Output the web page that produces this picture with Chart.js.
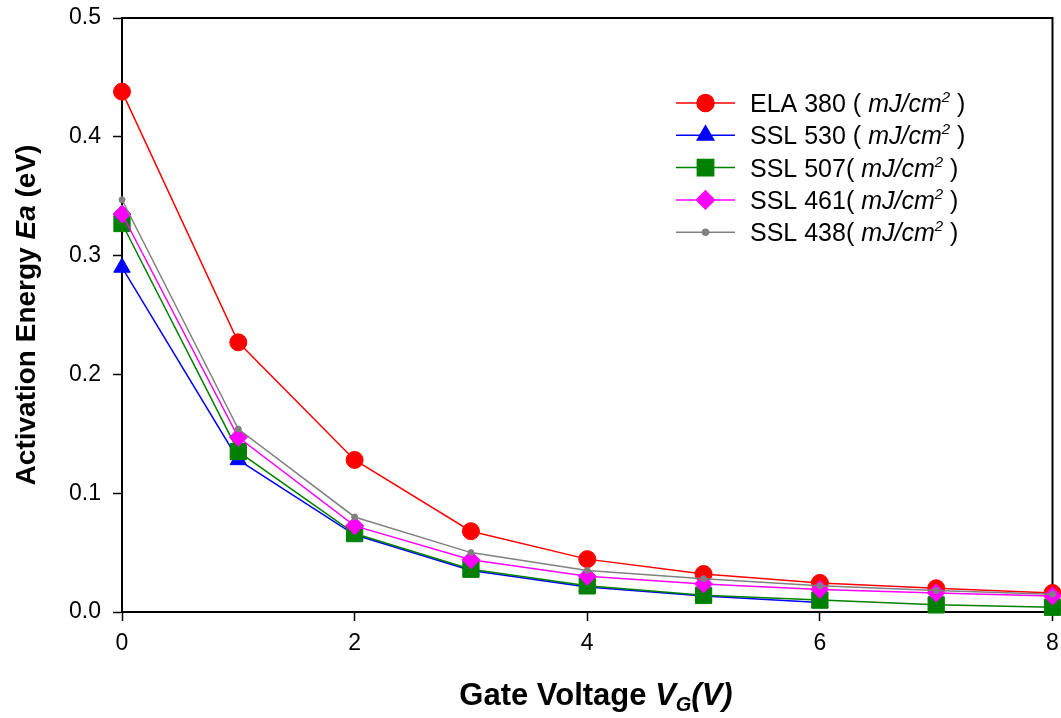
<!DOCTYPE html>
<html>
<head>
<meta charset="utf-8">
<script src="https://cdn.jsdelivr.net/npm/chart.js@4.4.0/dist/chart.umd.min.js"></script>
<style>
  body { margin: 0; background: #fff; overflow: hidden; }
  #cadre { width: 1061px; height: 718px; overflow: hidden; }
</style>
</head>
<body>
<div id="cadre"><canvas id="graphe" width="1065" height="718"></canvas></div>
<script>
// tension de grille (V) et énergie d'activation (eV) pour chaque recuit
const tensions = [0, 1, 2, 3, 4, 5, 6, 7, 8];
const ela380 = [0.438, 0.227, 0.128, 0.068, 0.0445, 0.032, 0.0245, 0.020, 0.016];
const ssl530 = [0.290, 0.128, 0.065, 0.035, 0.021, 0.0135, 0.008, null, null];
const ssl507 = [0.327, 0.135, 0.066, 0.036, 0.022, 0.014, 0.010, 0.006, 0.004];
const ssl461 = [0.335, 0.147, 0.0725, 0.044, 0.030, 0.0236, 0.019, 0.016, 0.0135];
const ssl438 = [0.347, 0.154, 0.080, 0.050, 0.035, 0.028, 0.022, 0.018, 0.015];

const noms = ["ELA 380 ( ", "SSL 530 ( ", "SSL 507( ", "SSL 461( ", "SSL 438( "];
const couleurs = ["#ff0000", "#0000ff", "#008000", "#ff00ff", "#808080"];
const formes = ["circle", "triangle", "rect", "rectRot", "circle"];
const tailles = [8.5, 9.5, 11.5, 9, 3];

const police = "'Liberation Sans', Arial, Helvetica, sans-serif";
const valeurs = [ela380, ssl530, ssl507, ssl461, ssl438];

// écrit une suite de morceaux de texte (polices différentes) à la suite
function ecrireMorceaux(ctx, morceaux, x, y, centre) {
    let largeur = 0;
    morceaux.forEach(m => { ctx.font = m.f; largeur += ctx.measureText(m.t).width; });
    let pos = centre ? x - largeur / 2 : x;
    ctx.textBaseline = "alphabetic";
    ctx.textAlign = "left";
    morceaux.forEach(m => {
        ctx.font = m.f;
        ctx.fillText(m.t, pos, y + (m.dy || 0));
        pos += ctx.measureText(m.t).width;
    });
}

const cadreGraphe = {
    id: "cadreGraphe",
    beforeDatasetsDraw(chart) {
        const a = chart.chartArea;
        const ctx = chart.ctx;
        ctx.save();
        ctx.strokeStyle = "#000";
        ctx.lineWidth = 2;
        ctx.beginPath();
        ctx.moveTo(a.left, a.top);
        ctx.lineTo(a.right, a.top);
        ctx.lineTo(a.right, a.bottom);
        ctx.stroke();
        ctx.restore();
    }
};

const textes = {
    id: "textes",
    afterDraw(chart) {
        const a = chart.chartArea;
        const ctx = chart.ctx;
        ctx.save();
        ctx.fillStyle = "#000";

        // titre de l'axe x
        ecrireMorceaux(ctx, [
            { t: "Gate Voltage ", f: "bold 31px " + police },
            { t: "V", f: "italic bold 31px " + police },
            { t: "G", f: "italic bold 20px " + police, dy: 6 },
            { t: "(V)", f: "italic bold 31px " + police }
        ], 596, 705, true);

        // titre de l'axe y
        ctx.save();
        ctx.translate(35, (a.top + a.bottom) / 2);
        ctx.rotate(-Math.PI / 2);
        ecrireMorceaux(ctx, [
            { t: "Activation Energy ", f: "bold 28px " + police },
            { t: "Ea", f: "italic bold 28px " + police },
            { t: " (eV)", f: "bold 28px " + police }
        ], 0, 0, true);
        ctx.restore();

        // légende
        noms.forEach((nom, i) => {
            const y = 103 + i * 32.3;
            ctx.strokeStyle = couleurs[i];
            ctx.fillStyle = couleurs[i];
            ctx.lineWidth = 1.5;
            ctx.beginPath();
            ctx.moveTo(676, y);
            ctx.lineTo(735, y);
            ctx.stroke();
            Chart.helpers.drawPoint(ctx, {
                pointStyle: formes[i], rotation: 0, radius: tailles[i], borderWidth: 1
            }, 705.5, y);
            ctx.fillStyle = "#000";
            ecrireMorceaux(ctx, [
                { t: nom, f: "25px " + police },
                { t: "mJ/cm", f: "italic 25px " + police },
                { t: "2", f: "italic 15px " + police, dy: -10 },
                { t: " )", f: "25px " + police }
            ], 750, y + 9, false);
        });
        ctx.restore();
    }
};

const jeux = valeurs.map((serie, i) => ({
    label: noms[i] + "mJ/cm² )",
    data: tensions.map((v, k) => ({ x: v, y: serie[k] })),
    borderColor: couleurs[i],
    backgroundColor: couleurs[i],
    borderWidth: 1.5,
    pointStyle: formes[i],
    pointRadius: tailles[i],
    pointBorderWidth: 1,
    tension: 0,
    spanGaps: false,
    clip: false,
    order: valeurs.length - 1 - i
}));

new Chart(document.getElementById("graphe"), {
    type: "line",
    data: { datasets: jeux },
    plugins: [cadreGraphe, textes],
    options: {
        responsive: false,
        animation: false,
        layout: { padding: { top: 18, right: 1, left: 0, bottom: 0 } },
        plugins: {
            legend: { display: false },
            tooltip: { enabled: false }
        },
        scales: {
            x: {
                type: "linear",
                min: 0,
                max: 8,
                ticks: { stepSize: 2, color: "#000", padding: 9, font: { family: police, size: 23 } },
                grid: { drawOnChartArea: false, drawTicks: true, tickLength: 9, tickWidth: 1.5, tickColor: "#000" },
                border: { color: "#000", width: 2 },
                afterFit(s) { s.height = 106; s.paddingLeft = 0; s.paddingRight = 0; }
            },
            y: {
                min: 0,
                max: 0.5,
                ticks: {
                    stepSize: 0.1, color: "#000", padding: 12,
                    font: { family: police, size: 23 },
                    callback: v => v.toFixed(1)
                },
                grid: { drawOnChartArea: false, drawTicks: true, tickLength: 9, tickWidth: 1.5, tickColor: "#000" },
                border: { color: "#000", width: 2 },
                afterFit(s) { s.width = 122; s.paddingTop = 0; s.paddingBottom = 0; }
            }
        }
    }
});
</script>
</body>
</html>
